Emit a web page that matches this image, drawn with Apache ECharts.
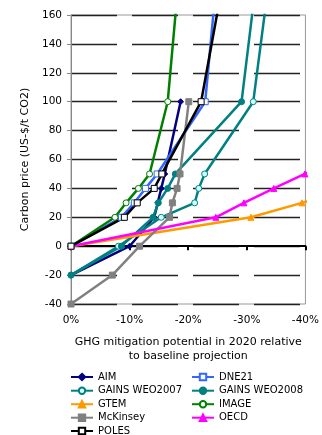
<!DOCTYPE html>
<html>
<head>
<meta charset="utf-8">
<script src="https://cdn.jsdelivr.net/npm/echarts@6/dist/echarts.min.js"></script>
<style>
html,body{margin:0;padding:0;background:#fff;}
#chart{width:322px;height:435px;}
</style>
</head>
<body>
<div id="chart"></div>
<script>
// Tick labels
const xTicks = [0, -10, -20, -30, -40];
const yTicks = [-40, -20, 0, 20, 40, 60, 80, 100, 120, 140, 160];

// Series (x = mitigation potential in %, y = carbon price)
const aimX = [0, -10, -14.2, -14.8, -15.4, -16.0, -18.7];
const aimY = [-20, 0, 20, 30, 40, 50, 100];
const dne21X = [0, -8.6, -10.8, -12.7, -14.7, -22.9, -25.2];
const dne21Y = [0, 20, 30, 40, 50, 100, 200];
const gains07X = [0, -8.1, -15.4, -21.1, -21.8, -22.8, -31.1, -34.3];
const gains07Y = [-20, 0, 20, 30, 40, 50, 100, 200];
const gains08X = [0, -8.6, -14.0, -14.9, -16.5, -17.8, -29.1, -32.1];
const gains08Y = [-20, 0, 20, 30, 40, 50, 100, 200];
const gtemX = [0, -30.7, -39.4, -48];
const gtemY = [0, 20, 30, 40];
const imageX = [0, -7.5, -9.4, -11.5, -13.4, -16.5, -18.7];
const imageY = [0, 20, 30, 40, 50, 100, 200];
const mckX = [0, -7.05, -11.7, -16.8, -17.3, -18.1, -18.6, -20.1];
const mckY = [-40, -20, 0, 20, 30, 40, 50, 100];
const oecdX = [0, -24.7, -29.5, -34.6, -39.9, -45];
const oecdY = [0, 20, 30, 40, 50, 60];
const polesX = [0, -9.1, -11.3, -14.2, -15.5, -22.2, -26.7];
const polesY = [0, 20, 30, 40, 50, 100, 200];

const seriesNames = ['AIM', 'DNE21', 'GAINS WEO2007', 'GAINS WEO2008', 'GTEM', 'IMAGE', 'McKinsey', 'OECD', 'POLES'];

const FONT = 'DejaVu Sans';
function pairs(xs, ys) { return xs.map((x, i) => [x, ys[i]]); }
function mk(name, xs, ys, color, symbol, fill, size) {
  return {
    name: name, type: 'line', data: pairs(xs, ys),
    xAxisIndex: 0, yAxisIndex: 0,
    symbol: symbol, symbolSize: size || 6, showAllSymbol: true,
    lineStyle: { color: color, width: 2.5 },
    itemStyle: { color: fill, borderColor: color, borderWidth: 1 },
    emphasis: { disabled: true },
    animation: false, z: 3
  };
}

const series = [
  mk('AIM', aimX, aimY, '#000080', 'diamond', '#000080', 6),
  mk('DNE21', dne21X, dne21Y, '#3366ff', 'rect', '#ffffff', 6),
  mk('GAINS WEO2007', gains07X, gains07Y, '#008080', 'circle', '#ccffff', 6),
  mk('GAINS WEO2008', gains08X, gains08Y, '#008080', 'circle', '#008080', 6),
  mk('GTEM', gtemX, gtemY, '#ff9900', 'triangle', '#ff9900', 6),
  mk('IMAGE', imageX, imageY, '#008000', 'circle', '#ffffff', 6),
  mk('McKinsey', mckX, mckY, '#808080', 'rect', '#808080', 6),
  mk('OECD', oecdX, oecdY, '#ff00ff', 'triangle', '#ff00ff', 6),
  mk('POLES', polesX, polesY, '#000000', 'rect', '#ffffff', 6)
];

// legend layout: two columns, row-wise order
const legendCols = [70, 191];
const legendRowCenters = [378, 391.7, 405.2, 418.7, 432];
const legends = seriesNames.map(function (n, i) {
  return {
    data: [n], orient: 'horizontal',
    left: legendCols[i % 2], top: legendRowCenters[Math.floor(i / 2)] - 6,
    itemWidth: 22, itemHeight: 8, itemGap: 0, padding: 0, selectedMode: false,
    textStyle: { fontSize: 10, color: '#000', fontFamily: FONT }
  };
});

const chart = echarts.init(document.getElementById('chart'), null, { renderer: 'canvas' });
chart.setOption({
  animation: false,
  textStyle: { fontFamily: FONT },
  grid: { left: 71, right: 15, top: 15, bottom: 131, show: true, borderColor: '#999', borderWidth: 1 },
  xAxis: [
    {
      type: 'value', min: -40, max: 0, interval: 10, inverse: true, position: 'bottom',
      axisLine: { show: true, onZero: true, lineStyle: { color: '#000', width: 2 } },
      axisTick: { show: true, length: 4, inside: false, lineStyle: { color: '#000', width: 2 } },
      axisLabel: { show: false },
      splitLine: { show: false }
    },
    {
      type: 'value', min: -40, max: 0, interval: 10, inverse: true, position: 'bottom',
      axisLine: { show: false, onZero: false },
      axisTick: { show: false },
      axisLabel: { show: true, margin: 11, fontSize: 10.5, color: '#000', fontFamily: FONT,
        formatter: function (v) { return xTicks.indexOf(v) >= 0 ? v + '%' : ''; } },
      splitLine: { show: false },
      name: 'GHG mitigation potential in 2020 relative\nto baseline projection',
      nameLocation: 'middle', nameGap: 31,
      nameTextStyle: { fontSize: 11, color: '#000', fontFamily: FONT, lineHeight: 14, align: 'center' }
    }
  ],
  yAxis: {
    type: 'value', min: -40, max: 160, interval: 20,
    axisLine: { show: true, onZero: false, lineStyle: { color: '#888', width: 1 } },
    axisTick: { show: true, length: 4, lineStyle: { color: '#888' } },
    axisLabel: { margin: 9, fontSize: 10.5, color: '#000', fontFamily: FONT,
      formatter: function (v) { return yTicks.indexOf(v) >= 0 ? String(v) : ''; } },
    splitLine: { show: true, lineStyle: { color: '#222', width: 1.4, type: [46, 15] } },
    name: 'Carbon price (US-$/t CO2)', nameLocation: 'middle', nameGap: 27,
    nameTextStyle: { fontSize: 11, color: '#000', fontFamily: FONT }
  },
  legend: legends,
  series: series
});
</script>
</body>
</html>
